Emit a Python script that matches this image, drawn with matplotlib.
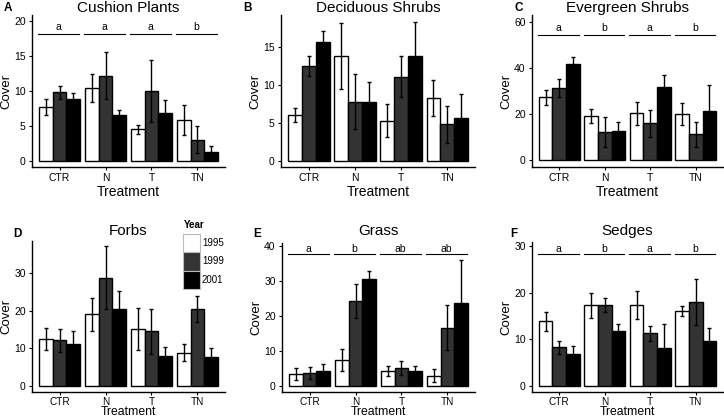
import matplotlib
matplotlib.use("Agg")
import matplotlib.pyplot as plt
from matplotlib.patches import Rectangle
import numpy as np

plt.rcParams["font.family"] = ["Liberation Sans", "DejaVu Sans"]

# ── Data ──────────────────────────────────────────────────────────────────────
TREATMENTS = ["CTR", "N", "T", "TN"]
YEARS = ["1995", "1999", "2001"]

# means per treatment, one list per year order (1995, 1999, 2001)
cushion_mean = [[7.7, 9.8, 8.9], [10.45, 12.2, 6.5], [4.5, 10.0, 6.8], [5.8, 3.05, 1.3]]
cushion_se = [[1.1, 0.9, 0.85], [2.0, 3.4, 0.8], [0.7, 4.45, 1.85], [2.15, 1.95, 0.85]]
cushion_letters = ["a", "a", "a", "b"]

decid_mean = [[6.0, 12.45, 15.7], [13.8, 7.8, 7.8], [5.3, 11.05, 13.8], [8.3, 4.8, 5.6]]
decid_se = [[0.9, 1.3, 1.45], [4.4, 3.65, 2.55], [2.2, 2.7, 4.5], [2.4, 2.45, 3.15]]

everg_mean = [[27.4, 31.4, 41.7], [19.3, 12.2, 12.9], [20.4, 16.1, 31.9], [20.1, 11.4, 21.4]]
everg_se = [[3.25, 4.05, 3.1], [3.1, 6.6, 3.85], [4.95, 5.8, 5.0], [4.8, 5.4, 11.15]]
everg_letters = ["a", "b", "a", "b"]

forbs_mean = [[12.55, 12.1, 11.0], [19.05, 28.8, 20.4], [15.05, 14.5, 7.9], [8.8, 20.5, 7.6]]
forbs_se = [[2.95, 3.1, 3.55], [4.35, 8.35, 4.85], [5.65, 5.95, 2.5], [2.2, 3.5, 2.35]]

grass_mean = [[3.25, 3.6, 4.3], [7.3, 24.3, 30.5], [4.2, 5.0, 4.3], [2.8, 16.5, 23.5]]
grass_se = [[1.75, 1.7, 2.0], [3.25, 4.85, 2.2], [1.35, 2.1, 1.4], [1.8, 6.45, 12.45]]
grass_letters = ["a", "b", "ab", "ab"]

sedge_mean = [[13.85, 8.25, 6.7], [17.3, 17.3, 11.85], [17.3, 11.3, 8.1], [16.0, 17.95, 9.55]]
sedge_se = [[2.0, 1.35, 1.9], [2.65, 1.45, 1.45], [3.05, 1.6, 5.2], [1.1, 5.0, 2.9]]
sedge_letters = ["a", "b", "a", "b"]

# ── Style / layout ────────────────────────────────────────────────────────────
W, H = 724, 420
YEAR_COLORS = ["white", "#333333", "black"]
BAR_W = 0.3

panels = [
    dict(tag="A", title="Cushion Plants", mean=cushion_mean, se=cushion_se,
         letters=cushion_letters, box=(32, 225, 15, 167), ylim=(-0.86, 20.86),
         yticks=[0, 5, 10, 15, 20], line_y=18.2, txt_y=19.2, tag_xy=(8, 8)),
    dict(tag="B", title="Deciduous Shrubs", mean=decid_mean, se=decid_se,
         letters=None, box=(281, 475, 15, 167), ylim=(-0.8, 19.2),
         yticks=[0, 5, 10, 15], tag_xy=(248, 8)),
    dict(tag="C", title="Evergreen Shrubs", mean=everg_mean, se=everg_se,
         letters=everg_letters, box=(532, 723, 15, 167), ylim=(-2.9, 63.2),
         yticks=[0, 20, 40, 60], line_y=54.7, txt_y=57.6, tag_xy=(519, 8)),
    dict(tag="D", title="Forbs", mean=forbs_mean, se=forbs_se,
         letters=None, box=(32, 225, 241, 392), ylim=(-1.7, 38.6),
         yticks=[0, 10, 20, 30], tag_xy=(17, 234)),
    dict(tag="E", title="Grass", mean=grass_mean, se=grass_se,
         letters=grass_letters, box=(282, 475, 243, 392), ylim=(-1.84, 40.8),
         yticks=[0, 10, 20, 30, 40], line_y=37.7, txt_y=39.2, tag_xy=(257, 234)),
    dict(tag="F", title="Sedges", mean=sedge_mean, se=sedge_se,
         letters=sedge_letters, box=(532, 723, 242, 392), ylim=(-1.38, 30.9),
         yticks=[0, 10, 20, 30], line_y=28.3, txt_y=29.4, tag_xy=(514, 234)),
]

fig = plt.figure(figsize=(W / 100, H / 100), dpi=100, facecolor="white")

x = np.arange(len(TREATMENTS))
for p in panels:
    l, r, t, b = p["box"]
    top_row = t < 100
    ax = fig.add_axes([l / W, 1 - b / H, (r - l) / W, (b - t) / H])
    mean = np.array(p["mean"])
    se = np.array(p["se"])

    for j, yr in enumerate(YEARS):
        xs = x + (j - 1) * BAR_W
        ax.bar(xs, mean[:, j], width=BAR_W, color=YEAR_COLORS[j],
               edgecolor="black", linewidth=1.0, zorder=2)
        ax.errorbar(xs, mean[:, j], yerr=se[:, j], fmt="none", ecolor="black",
                    elinewidth=1.0, capsize=1.6, capthick=1.0, zorder=3)

    # significance letters
    if p["letters"]:
        for i, let in enumerate(p["letters"]):
            ax.plot([i - 0.46, i + 0.43], [p["line_y"]] * 2, color="black",
                    lw=0.8, zorder=2)
            ax.text(i - 0.02, p["txt_y"], let, ha="center", va="center",
                    fontsize=7.5)

    ax.set_xlim(-0.6, 3.6)
    ax.set_ylim(*p["ylim"])
    ax.set_xticks(x)
    ax.set_xticklabels(TREATMENTS)
    ax.set_yticks(p["yticks"])
    ax.tick_params(axis="both", labelsize=7.5, length=2.5, width=0.8,
                   pad=2, color="black")
    if not top_row:
        ax.tick_params(axis="x", labelsize=7.2, pad=0.8)
    for s in ["top", "right"]:
        ax.spines[s].set_visible(False)
    for s in ["left", "bottom"]:
        ax.spines[s].set_linewidth(1.0)

    ax.set_ylabel("Cover", fontsize=9.5)
    ax.yaxis.set_label_coords((12.5 - 32) / 193, 0.5)
    if top_row:
        ax.set_xlabel("Treatment", fontsize=10)
        ax.xaxis.set_label_coords(0.5, -0.12)
    else:
        ax.set_xlabel("Treatment", fontsize=8.8)
        ax.xaxis.set_label_coords(0.5, -0.096)

    cx = (l + r) / 2
    ty = 8 if top_row else 231
    fig.text(cx / W, 1 - ty / H, p["title"], ha="center", va="center",
             fontsize=11)
    tx, tyy = p["tag_xy"]
    fig.text(tx / W, 1 - tyy / H, p["tag"], ha="center", va="center",
             fontsize=8.5, fontweight="bold")

# ── Legend (drawn in panel D) ─────────────────────────────────────────────────
fig.text(184 / W, 1 - 225 / H, "Year", ha="left", va="center",
         fontsize=7, fontweight="bold")
key_top, key_h = 233.5, 18.5
for j, yr in enumerate(YEARS):
    y0 = key_top + j * key_h
    fig.add_artist(Rectangle((183 / W, 1 - (y0 + key_h) / H), 17 / W, key_h / H,
                             transform=fig.transFigure, facecolor=YEAR_COLORS[j],
                             edgecolor="#bbbbbb", linewidth=0.8))
    fig.text(202 / W, 1 - (y0 + key_h / 2) / H, yr, ha="left", va="center",
             fontsize=7)

fig.savefig("out.png", dpi=100, facecolor="white")
